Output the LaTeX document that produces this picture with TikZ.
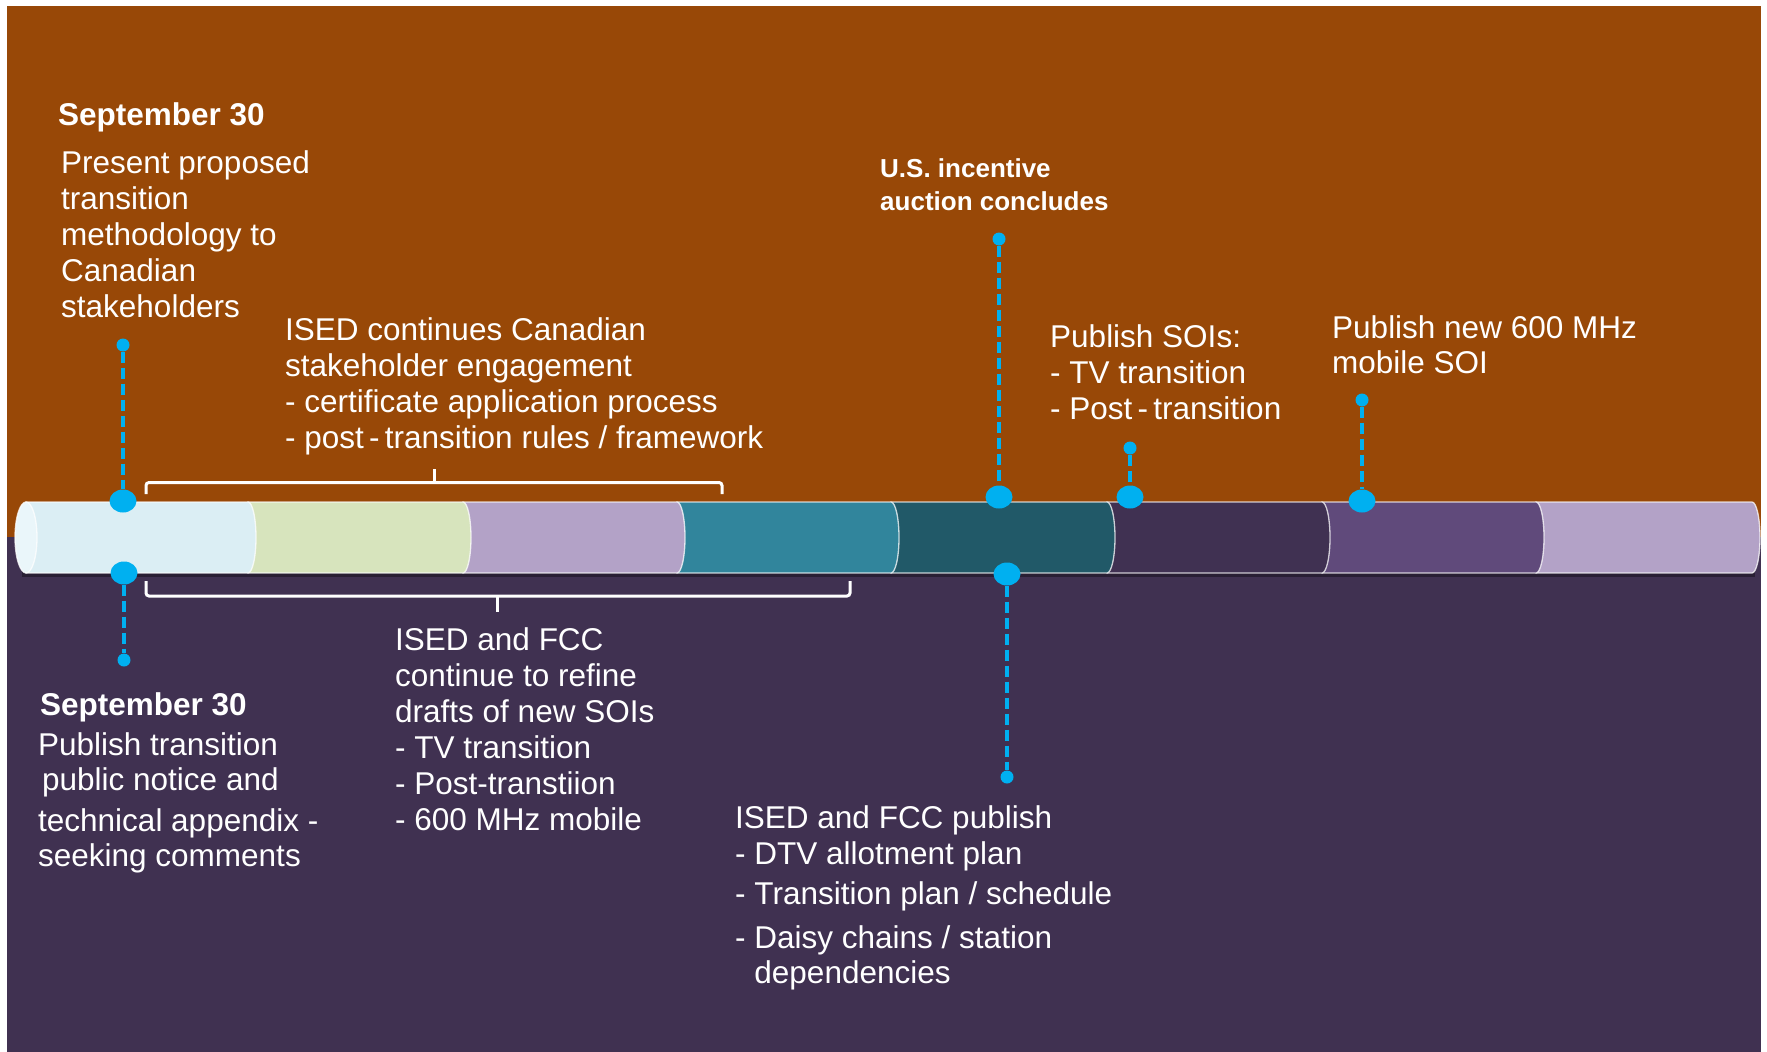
\documentclass[tikz,border=0pt]{standalone}
\usepackage{fontspec}
\setmainfont{Liberation Sans}
\usetikzlibrary{shapes.geometric}
\definecolor{brownbg}{HTML}{984807}
\definecolor{purplebg}{HTML}{403151}
\definecolor{cyanline}{HTML}{00B0F0}
\definecolor{segA}{HTML}{DBEEF4}
\definecolor{segB}{HTML}{D7E4BD}
\definecolor{segC}{HTML}{B3A2C7}
\definecolor{segD}{HTML}{31859C}
\definecolor{segE}{HTML}{215968}
\definecolor{segF}{HTML}{403152}
\definecolor{segG}{HTML}{604A7B}
\definecolor{segH}{HTML}{B3A2C7}
\definecolor{capc}{HTML}{EAF6FA}
\begin{document}
\begin{tikzpicture}[x=1pt,y=-1pt,
  bigdot/.style={ellipse, fill=cyanline, minimum width=27pt, minimum height=23pt, inner sep=0pt},
  smalldot/.style={circle, fill=cyanline, minimum size=13pt, inner sep=0pt},
  dashline/.style={cyanline, line width=3.5pt, dash pattern=on 11pt off 5pt},
  bracketline/.style={white, line width=3pt, rounded corners=3pt},
  segedge/.style={draw=white, draw opacity=0.75, line width=1.3pt},
  txt/.style={text=white, font=\fontsize{31.5}{36}\selectfont, anchor=base west, align=left, inner sep=0pt},
  boldtxt/.style={text=white, font=\bfseries\fontsize{31.5}{36}\selectfont, anchor=base west, align=left, inner sep=0pt},
  smallbold/.style={text=white, font=\bfseries\fontsize{26}{33}\selectfont, anchor=base west, align=left, inner sep=0pt}]
\useasboundingbox (0,0) rectangle (1767,1052);
\fill[white] (0,0) rectangle (1767,1052);
\fill[brownbg] (7,6) rectangle (1761,537);
\fill[purplebg] (7,537) rectangle (1761,1052);

% shadow under cylinder
\fill[black, opacity=0.35] (22,571) rectangle (1755,577);

% cylinder segments, right to left
\foreach \l/\r/\c in {1536/1752/segH, 1322/1536/segG, 1107/1322/segF, 891/1107/segE, 677/891/segD, 463/677/segC, 248/463/segB, 26/248/segA}{
  \filldraw[fill=\c, segedge] (\l,502) -- (\r,502) arc[start angle=-90, end angle=90, x radius=8, y radius=35.5] -- (\l,573) -- cycle;
}
\filldraw[fill=capc, segedge] (26,537.5) ellipse[x radius=11, y radius=35.5];

% brackets
\draw[bracketline] (146,494) -- (146,482.5) -- (722,482.5) -- (722,494);
\draw[bracketline] (434,482.5) -- (434,469);
\draw[bracketline] (146,581) -- (146,596) -- (850,596) -- (850,581);
\draw[bracketline] (497,596) -- (497,612);

% markers
\node[smalldot] (m1s) at (123,345) {};
\node[bigdot] (m1b) at (123,501) {};
\node[bigdot] (m2b) at (124,573) {};
\node[smalldot] (m2s) at (124,660) {};
\node[smalldot] (m3s) at (999,239) {};
\node[bigdot] (m3b) at (999,497) {};
\node[smalldot] (m4s) at (1130,448) {};
\node[bigdot] (m4b) at (1130,497) {};
\node[smalldot] (m5s) at (1362,400) {};
\node[bigdot] (m5b) at (1362,501) {};
\node[bigdot] (m6b) at (1007,574) {};
\node[smalldot] (m6s) at (1007,777) {};
\draw[dashline] (m1s) -- (m1b);
\draw[dashline] (m2b) -- (m2s);
\draw[dashline] (m3s) -- (m3b);
\draw[dashline] (m4s) -- (m4b);
\draw[dashline] (m5s) -- (m5b);
\draw[dashline] (m6b) -- (m6s);

% texts (multi-line nodes are anchored at the baseline of their last line)
\node[boldtxt] (d1) at (58,125) {September 30};
\node[txt] (t1) at (61,317) {Present proposed\\transition\\methodology to\\Canadian\\stakeholders};
\node[txt] (t2) at (285,448) {ISED continues Canadian\\stakeholder engagement\\- certificate application process\\- post\,-\,transition rules / framework};
\node[smallbold] (t3) at (880,210) {U.S. incentive\\auction concludes};
\node[txt] (t4) at (1050,419) {Publish SOIs:\\- TV transition\\- Post\,-\,transition};
\node[txt] (t5) at (1332,373) {Publish new 600 MHz\\[-1pt]mobile SOI};
\node[boldtxt] (d2) at (40,715) {September 30};
\node[txt] (t6) at (38,866) {Publish transition\\[-1pt]\hspace*{4pt}public notice and\\[5pt]technical appendix -\\[-1pt]seeking comments};
\node[txt] (t7) at (395,830) {ISED and FCC\\continue to refine\\drafts of new SOIs\\- TV transition\\- Post-transtiion\\- 600 MHz mobile};
\node[txt] (t8) at (735,983) {ISED and FCC publish\\[-0.5pt]- DTV allotment plan\\[4pt]- Transition plan / schedule\\[8pt]- Daisy chains / station\\[-1pt]\phantom{- }dependencies};
\end{tikzpicture}
\end{document}
